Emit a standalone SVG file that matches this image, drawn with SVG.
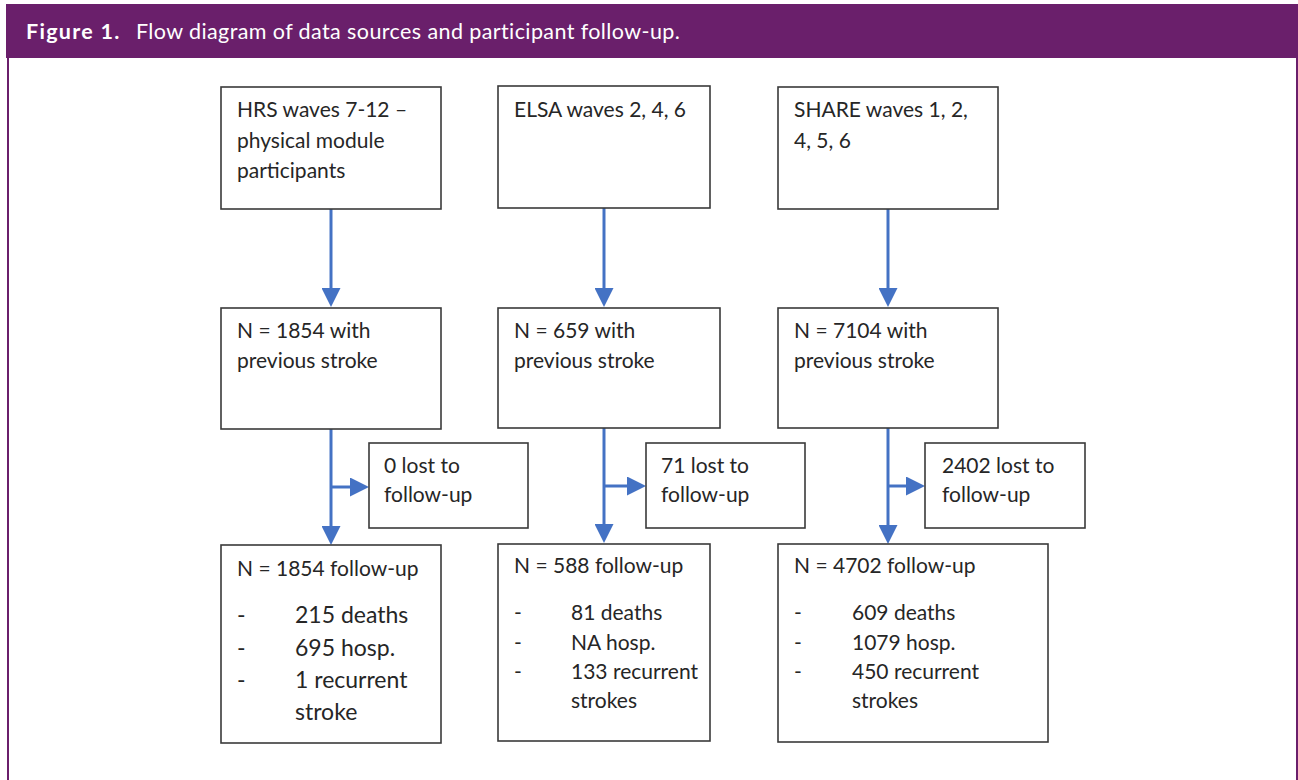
<svg xmlns="http://www.w3.org/2000/svg" width="1298" height="780" viewBox="0 0 1298 780">
<style>
.box{fill:#fff;stroke:#3a3a3a;stroke-width:1.6}
.t{font-family:Lato,"Liberation Sans",sans-serif;font-size:21px;fill:#262626}
.big{font-size:23px}
.conn{fill:none;stroke:#4472C4;stroke-width:3}
.title{font-family:Lato,"Liberation Sans",sans-serif;font-size:21.5px;fill:#fff}
</style>
<defs>
<marker id="ah" markerUnits="userSpaceOnUse" markerWidth="19" markerHeight="19" refX="11" refY="9.5" orient="auto">
<path d="M0,0 L19,9.5 L0,19 z" fill="#4472C4"/>
</marker>
</defs>
<rect x="0" y="0" width="1298" height="780" fill="#fff"/>
<g id="frame">
<rect x="6" y="4" width="1292" height="54" fill="#6a1f6b"/>
<line x1="8" y1="58" x2="8" y2="780" stroke="#6a1f6b" stroke-width="2"/>
<line x1="1297" y1="58" x2="1297" y2="780" stroke="#6a1f6b" stroke-width="2"/>
<text class="title" x="26" y="38.5" font-weight="bold" font-size="22px" letter-spacing="1.3">Figure 1.</text>
<text class="title" x="136" y="38.5" letter-spacing="0.4">Flow diagram of data sources and participant follow-up.</text>
</g>
<g id="connectors">
<path class="conn" d="M331,209 V299" marker-end="url(#ah)"/>
<path class="conn" d="M331,429 V537" marker-end="url(#ah)"/>
<path class="conn" d="M331,487 H361" marker-end="url(#ah)"/>
<path class="conn" d="M604,208 V299" marker-end="url(#ah)"/>
<path class="conn" d="M604,428 V535" marker-end="url(#ah)"/>
<path class="conn" d="M604,486 H638" marker-end="url(#ah)"/>
<path class="conn" d="M888,209 V299" marker-end="url(#ah)"/>
<path class="conn" d="M888,428 V536" marker-end="url(#ah)"/>
<path class="conn" d="M888,486 H917" marker-end="url(#ah)"/>
</g>
<g id="hrs-source">
<rect class="box" x="221" y="87" width="220" height="122"/>
<text class="t" x="237" y="117">HRS waves 7-12 –</text>
<text class="t" x="237" y="148">physical module</text>
<text class="t" x="237" y="178">participants</text>
</g>
<g id="elsa-source">
<rect class="box" x="498" y="86" width="212" height="122"/>
<text class="t" x="514" y="117">ELSA waves 2, 4, 6</text>
</g>
<g id="share-source">
<rect class="box" x="778" y="87" width="220" height="122"/>
<text class="t" x="794" y="117">SHARE waves 1, 2,</text>
<text class="t" x="794" y="148">4, 5, 6</text>
</g>
<g id="hrs-stroke">
<rect class="box" x="221" y="308" width="220" height="121"/>
<text class="t" x="237" y="338">N = 1854 with</text>
<text class="t" x="237" y="368">previous stroke</text>
</g>
<g id="elsa-stroke">
<rect class="box" x="498" y="308" width="222" height="120"/>
<text class="t" x="514" y="338">N = 659 with</text>
<text class="t" x="514" y="368">previous stroke</text>
</g>
<g id="share-stroke">
<rect class="box" x="778" y="308" width="220" height="120"/>
<text class="t" x="794" y="338">N = 7104 with</text>
<text class="t" x="794" y="368">previous stroke</text>
</g>
<g id="hrs-lost">
<rect class="box" x="369" y="443" width="159" height="85"/>
<text class="t" x="384" y="473">0 lost to</text>
<text class="t" x="384" y="502">follow-up</text>
</g>
<g id="elsa-lost">
<rect class="box" x="646" y="443" width="159" height="85"/>
<text class="t" x="661" y="473">71 lost to</text>
<text class="t" x="661" y="502">follow-up</text>
</g>
<g id="share-lost">
<rect class="box" x="925" y="443" width="160" height="85"/>
<text class="t" x="942" y="473">2402 lost to</text>
<text class="t" x="942" y="502">follow-up</text>
</g>
<g id="hrs-followup">
<rect class="box" x="221" y="545" width="220" height="198"/>
<text class="t" x="237" y="576">N = 1854 follow-up</text>
<text class="t big" x="237" y="623">-</text>
<text class="t big" x="295" y="623">215 deaths</text>
<text class="t big" x="237" y="656">-</text>
<text class="t big" x="295" y="656">695 hosp.</text>
<text class="t big" x="237" y="688">-</text>
<text class="t big" x="295" y="688">1 recurrent</text>
<text class="t big" x="295" y="720">stroke</text>
</g>
<g id="elsa-followup">
<rect class="box" x="498" y="544" width="212" height="197"/>
<text class="t" x="514" y="573">N = 588 follow-up</text>
<text class="t" x="514" y="620">-</text>
<text class="t" x="571" y="620">81 deaths</text>
<text class="t" x="514" y="650">-</text>
<text class="t" x="571" y="650">NA hosp.</text>
<text class="t" x="514" y="679">-</text>
<text class="t" x="571" y="679">133 recurrent</text>
<text class="t" x="571" y="708">strokes</text>
</g>
<g id="share-followup">
<rect class="box" x="778" y="544" width="270" height="198"/>
<text class="t" x="794" y="573">N = 4702 follow-up</text>
<text class="t" x="794" y="620">-</text>
<text class="t" x="852" y="620">609 deaths</text>
<text class="t" x="794" y="650">-</text>
<text class="t" x="852" y="650">1079 hosp.</text>
<text class="t" x="794" y="679">-</text>
<text class="t" x="852" y="679">450 recurrent</text>
<text class="t" x="852" y="708">strokes</text>
</g>
</svg>
